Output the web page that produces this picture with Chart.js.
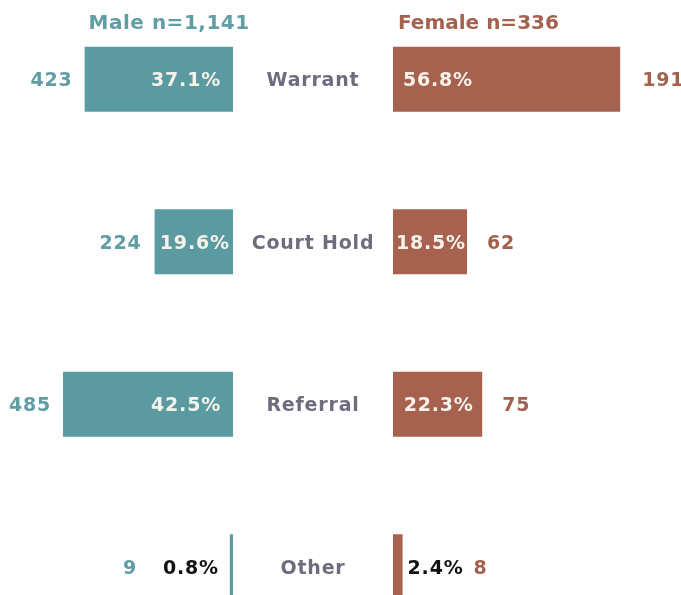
<!DOCTYPE html>
<html>
<head>
<meta charset="utf-8">
<script src="https://cdn.jsdelivr.net/npm/chart.js@4"></script>
<style>
  html, body { margin: 0; padding: 0; background: #ffffff; overflow: hidden; width: 681px; height: 595px; }
  #wrap { position: absolute; left: 0; top: -2px; width: 681px; height: 650px; }
</style>
</head>
<body>
<div id="wrap"><canvas id="c"></canvas></div>
<script>
// ---- data ----
const categories = ['Warrant', 'Court Hold', 'Referral', 'Other'];
const malePct = [37.1, 19.6, 42.5, 0.8];
const femalePct = [56.8, 18.5, 22.3, 2.4];
const maleCount = [423, 224, 485, 9];
const femaleCount = [191, 62, 75, 8];
const maleHeader = 'Male n=1,141';
const femaleHeader = 'Female n=336';

// ---- styling ----
const TEAL = '#5a9aa0';
const TEAL_TXT = '#5f9ea4';
const BROWN = '#a6614f';
const BROWN_TXT = '#a3624f';
const GREY = '#6d6d7d';
const INNER = '#f6f2ea';
const GAP = 20; // half-gap between the two sides, in percent units
const FONT = 'bold 19px "DejaVu Sans"';
const HFONT = 'bold 20px "DejaVu Sans"';
const LS = 0.8;

const maleBars = malePct.map(v => [-GAP - v, -GAP]);
const femaleBars = femalePct.map(v => [GAP, GAP + v]);

const labelPlugin = {
  id: 'butterflyLabels',
  afterDatasetsDraw(chart) {
    const ctx = chart.ctx;
    const xs = chart.scales.x;
    const cx = xs.getPixelForValue(0);
    const mMeta = chart.getDatasetMeta(0);
    const fMeta = chart.getDatasetMeta(1);
    ctx.save();
    ctx.textBaseline = 'alphabetic';

    function txt(s, x, y, align, color, font, ls) {
      ctx.font = font || FONT;
      ctx.letterSpacing = (ls === undefined ? LS : ls) + 'px';
      ctx.fillStyle = color;
      ctx.textAlign = align;
      ctx.fillText(s, x, y);
    }
    function w(s, font, ls) {
      ctx.font = font || FONT;
      ctx.letterSpacing = (ls === undefined ? LS : ls) + 'px';
      return ctx.measureText(s).width;
    }

    categories.forEach((cat, i) => {
      const mb = mMeta.data[i], fb = fMeta.data[i];
      const y = mb.y;
      const base = y + 7;
      // centre category label
      txt(cat, cx, base, 'center', GREY);

      // male side
      const mL = Math.min(mb.x, mb.base), mR = Math.max(mb.x, mb.base);
      const mW = mR - mL;
      const mp = malePct[i].toFixed(1) + '%';
      const mpw = w(mp);
      if (mW >= mpw + 26) {
        txt(mp, mR - 12, base, 'right', INNER);
        txt(String(maleCount[i]), mL - 12, base, 'right', TEAL_TXT);
      } else if (mW >= mpw + 4) {
        txt(mp, (mL + mR) / 2 + 1, base, 'center', INNER);
        txt(String(maleCount[i]), mL - 13, base, 'right', TEAL_TXT);
      } else {
        txt(mp, mL - 11, base, 'right', '#111111');
        txt(String(maleCount[i]), mL - 11 - mpw - 26, base, 'right', TEAL_TXT);
      }

      // female side
      const fL = Math.min(fb.x, fb.base), fR = Math.max(fb.x, fb.base);
      const fW = fR - fL;
      const fp = femalePct[i].toFixed(1) + '%';
      const fpw = w(fp);
      if (fW >= fpw + 26) {
        txt(fp, fL + 10, base, 'left', INNER);
        txt(String(femaleCount[i]), fR + 22, base, 'left', BROWN_TXT);
      } else if (fW >= fpw + 4) {
        txt(fp, (fL + fR) / 2 + 1, base, 'center', INNER);
        txt(String(femaleCount[i]), fR + 20, base, 'left', BROWN_TXT);
      } else {
        txt(fp, fR + 5, base, 'left', '#111111');
        txt(String(femaleCount[i]), fR + 5 + fpw + 10, base, 'left', BROWN_TXT);
      }
    });

    // headers
    const m0 = mMeta.data[0], f0 = fMeta.data[0];
    const hy = 31;
    txt(maleHeader, Math.min(m0.x, m0.base) + 4, hy, 'left', TEAL_TXT, HFONT, 0.5);
    txt(femaleHeader, Math.min(f0.x, f0.base) + 5, hy, 'left', BROWN_TXT, HFONT, 0);
    ctx.restore();
  }
};

new Chart(document.getElementById('c'), {
  type: 'bar',
  data: {
    labels: categories,
    datasets: [
      { label: 'Male', data: maleBars, backgroundColor: TEAL, borderWidth: 0, grouped: false,
        barPercentage: 0.4, categoryPercentage: 1 },
      { label: 'Female', data: femaleBars, backgroundColor: BROWN, borderWidth: 0, grouped: false,
        barPercentage: 0.4, categoryPercentage: 1 }
    ]
  },
  options: {
    indexAxis: 'y',
    responsive: true,
    maintainAspectRatio: false,
    animation: false,
    layout: { padding: 0 },
    plugins: { legend: { display: false }, tooltip: { enabled: false }, title: { display: false } },
    scales: {
      x: { type: 'linear', display: false, min: -78.25, max: 92 },
      y: { type: 'category', display: false, offset: true }
    }
  },
  plugins: [labelPlugin]
});
</script>
</body>
</html>
